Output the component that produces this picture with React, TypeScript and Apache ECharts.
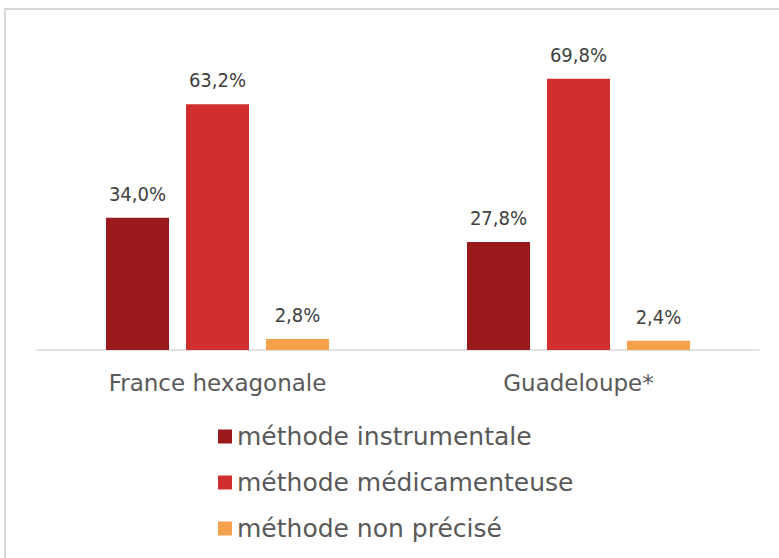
import React, { useEffect, useRef } from "react";
import * as echarts from "echarts";

const categories = ["France hexagonale", "Guadeloupe*"];
const seriesNames = ["méthode instrumentale", "méthode médicamenteuse", "méthode non précisé"];
const instrumentale = [34.0, 27.8];
const medicamenteuse = [63.2, 69.8];
const nonPrecise = [2.8, 2.4];
const colors = ["#9A191D", "#D12F2F", "#F4A04C"];

const FONT = "'DejaVu Sans', sans-serif";
const NUMFONT = "'DejaVu Sans Condensed', 'Liberation Sans', sans-serif";

export default function App() {
  const ref = useRef<HTMLDivElement>(null);
  useEffect(() => {
    if (!ref.current) return;
    const chart = echarts.init(ref.current, undefined, { renderer: "svg" });
    const values = [instrumentale, medicamenteuse, nonPrecise];
    chart.setOption({
      animation: false,
      backgroundColor: "#ffffff",
      graphic: [
        {
          type: "rect",
          shape: { x: 5, y: 9, width: 800, height: 600 },
          style: { fill: "none", stroke: "#d9d9d9", lineWidth: 2 },
          silent: true,
        },
      ],
      grid: { left: 37, right: 20, top: 39, height: 311, containLabel: false },
      xAxis: {
        type: "category",
        data: categories,
        axisLine: { lineStyle: { color: "#d9d9d9", width: 1.5 } },
        axisTick: { show: false },
        axisLabel: { color: "#595959", fontSize: 23, fontFamily: FONT, margin: 21 },
      },
      yAxis: {
        type: "value",
        min: 0,
        max: 80,
        show: false,
        splitLine: { show: false },
      },
      legend: {
        orient: "vertical",
        left: 213,
        top: 419,
        itemWidth: 14,
        itemHeight: 14,
        itemGap: 21,
        icon: "rect",
        textStyle: { color: "#595959", fontSize: 25, fontFamily: FONT },
        data: seriesNames,
      },
      series: seriesNames.map((name, i) => ({
        name,
        type: "bar",
        data: values[i],
        barWidth: 63,
        barGap: "27%",
        itemStyle: { color: colors[i] },
        label: {
          show: true,
          position: "top",
          distance: 14,
          color: "#404040",
          fontSize: 20,
          fontFamily: NUMFONT,
          formatter: (p: any) => p.value.toFixed(1).replace(".", ",") + "%",
        },
      })),
    });
    return () => chart.dispose();
  }, []);
  return (
    <div
      ref={ref}
      style={{ position: "fixed", left: 0, top: 0, width: 779, height: 558 }}
    />
  );
}
